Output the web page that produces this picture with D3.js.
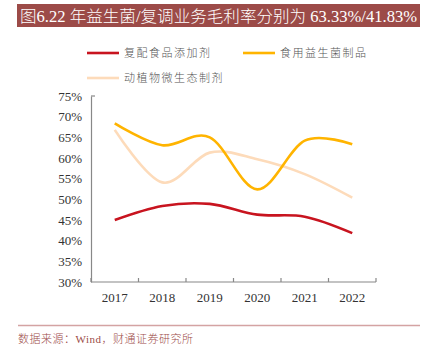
<!DOCTYPE html>
<meta charset="utf-8">
<head>
<script src="https://d3js.org/d3.v7.min.js"></script>
<style>
  body { margin: 0; background: #fff; }
  text { font-family: "Liberation Serif", "Noto Sans CJK SC", serif; }
</style>
</head>
<body>
<div id="my_dataviz"></div>
<script>

// data (percent)
var years = ["2017", "2018", "2019", "2020", "2021", "2022"];
var fuPei = [45.0, 48.4, 48.9, 46.3, 45.8, 41.83];      // 复配食品添加剂
var shiYong = [68.4, 63.1, 65.0, 52.4, 64.2, 63.33];    // 食用益生菌制品
var dongZhi = [66.8, 54.1, 61.3, 59.7, 56.1, 50.4];     // 动植物微生态制剂
var yTicks = [30, 35, 40, 45, 50, 55, 60, 65, 70, 75];

var series = [
  {name: "复配食品添加剂", values: fuPei, color: "#c8141f"},
  {name: "食用益生菌制品", values: shiYong, color: "#ffb400"},
  {name: "动植物微生态制剂", values: dongZhi, color: "#fddbba"}
];

var W = 426, H = 346;
var margin = {top: 96, right: 50, bottom: 64, left: 91},
    width = 376 - margin.left,
    height = 282 - margin.top;

var svg = d3.select("#my_dataviz")
  .append("svg")
    .attr("width", W)
    .attr("height", H);

// title bar
svg.append("rect")
  .attr("x", 17).attr("y", 4)
  .attr("width", 403).attr("height", 23)
  .attr("fill", "#9c4b48");
svg.append("text")
  .attr("x", 20).attr("y", 21.5)
  .attr("fill", "#fff")
  .style("font-size", "16px")
  .style("font-weight", "300")
  .attr("textLength", 397)
  .attr("lengthAdjust", "spacingAndGlyphs")
  .text("图6.22 年益生菌/复调业务毛利率分别为 63.33%/41.83%");

var g = svg.append("g")
  .attr("transform", "translate(" + margin.left + "," + margin.top + ")");

var x = d3.scaleBand()
  .domain(years)
  .range([0, width]);

var y = d3.scaleLinear()
  .domain([30, 75])
  .range([height, 0]);

// X axis: ticks at band edges, pointing up
var xAxis = g.append("g")
  .attr("transform", "translate(0," + height + ")");
xAxis.append("line")
  .attr("x1", 0).attr("x2", width)
  .attr("stroke", "#888").attr("stroke-width", 1.2);
xAxis.selectAll(".edge")
  .data(years.concat(["end"]))
  .enter().append("line")
    .attr("x1", function(d, i) { return i * x.bandwidth(); })
    .attr("x2", function(d, i) { return i * x.bandwidth(); })
    .attr("y1", 0).attr("y2", -4)
    .attr("stroke", "#888").attr("stroke-width", 1.2);
xAxis.selectAll(".lab")
  .data(years)
  .enter().append("text")
    .attr("x", function(d) { return x(d) + x.bandwidth() / 2; })
    .attr("y", 20)
    .attr("text-anchor", "middle")
    .attr("fill", "#333")
    .style("font-size", "13px")
    .text(function(d) { return d; });

// Y axis
var yAxis = g.append("g")
  .call(d3.axisLeft(y).tickValues(yTicks).tickSize(0).tickPadding(9)
    .tickFormat(function(d) { return d + "%"; }));
yAxis.select(".domain").attr("stroke", "#888").attr("stroke-width", 1.2);
yAxis.selectAll("text")
  .attr("fill", "#333")
  .style("font-size", "13px")
  .style("font-family", "Liberation Serif, serif");
yAxis.append("line")
  .attr("x1", 0).attr("x2", 4)
  .attr("y1", 0).attr("y2", 0)
  .attr("stroke", "#888").attr("stroke-width", 1.2);

// lines
var line = d3.line()
  .curve(d3.curveCardinal.tension(0))
  .x(function(d, i) { return x(years[i]) + x.bandwidth() / 2; })
  .y(function(d) { return y(d); });

series.slice().reverse().forEach(function(s) {
  g.append("path")
    .datum(s.values)
    .attr("fill", "none")
    .attr("stroke", s.color)
    .attr("stroke-width", 2.6)
    .attr("d", line);
});

// legend
var legendPos = [[87, 53], [243, 53], [87, 78]];
series.forEach(function(s, i) {
  var p = legendPos[i];
  svg.append("line")
    .attr("x1", p[0]).attr("x2", p[0] + 32)
    .attr("y1", p[1]).attr("y2", p[1])
    .attr("stroke", s.color).attr("stroke-width", 2.6);
  svg.append("text")
    .attr("x", p[0] + 37).attr("y", p[1] + 4)
    .attr("fill", "#555")
    .style("font-size", "11px")
    .style("font-weight", "300")
    .style("letter-spacing", "1.5px")
    .text(s.name);
});

// footer
svg.append("line")
  .attr("x1", 18).attr("x2", 420)
  .attr("y1", 325.5).attr("y2", 325.5)
  .attr("stroke", "#d4a3a3").attr("stroke-width", 1.5);
svg.append("text")
  .attr("x", 18).attr("y", 343)
  .attr("fill", "#9c4b48")
  .style("font-size", "11px")
  .style("font-weight", "300")
  .style("letter-spacing", "0.5px")
  .text("数据来源：Wind，财通证券研究所");

</script>
</body>
</html>
